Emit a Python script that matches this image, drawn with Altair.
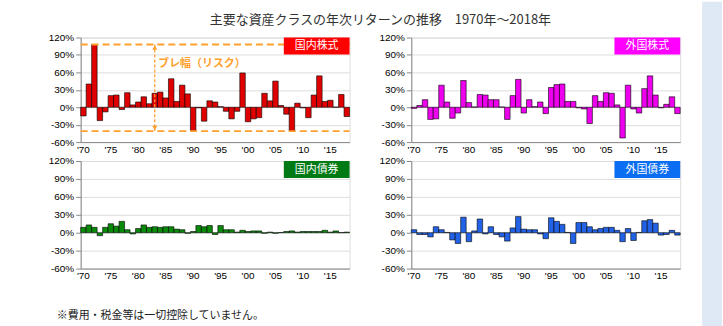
import altair as alt
import pandas as pd

# Annual returns (%) by asset class, 1970-2018
years = list(range(1970, 2019))

dom_equity = [-15, 40, 108, -23, -8, 20, 21, -4, 25, 4,
              9, 18, 6, 24, 26, 16, 49, 10, 38, 23,
              -40, -1, -24, 11, 9, 1, -7, -20, -7, 59,
              -25, -20, -18, 24, 11, 45, 3, -12, -41, 7,
              -1, -18, 21, 54, 10, 12, 0.3, 22, -16]

for_equity = [-2, 3, 13, -21, -20, 38, 9, -19, -10, 46,
              8, 0.5, 22, 21, 13, 13, 0.5, -21, 20, 48,
              -10, 13, 1, 9, -11, 34, 39, 40, 10, 10,
              -1, -3, -28, 20, 10, 25, 24, 4, -53, 38,
              -3, -10, 32, 54, 21, -1, 5, 18, -11]

dom_bond = [9, 13, 9, -5, 9, 15, 11, 19, 5, -2,
            7, 13, 9, 10, 9, 10, 10, 6, 5, -1,
            2, 12, 10, 12, -3, 12, 5, 5, 1, 4,
            2, 3, 3, -1, 1, -1, 0.3, 2, 3, 1,
            2, 2, 2, 2, 4, 1, 3, 0.2, 1]

for_bond = [5, -3, -3, -7, 10, 5, 0.5, -12, -18, 26,
            -15, 3, 23, -2, 10, -3, -7, -14, 8, 27,
            6, 5, 5, -2, -10, 25, 19, 14, 0.5, -18,
            17, 17, 10, 5, 7, 9, 9, 4, -15, 7,
            -13, 0.5, 20, 22, 16, -4, -3, 4, -4]

panel_names = ["国内株式", "外国株式", "国内債券", "外国債券"]
bar_colors = ["#E00000", "#EE00EE", "#0A8A0A", "#2162E6"]
box_colors = ["#FF0000", "#FF00FF", "#007A14", "#0A6EF2"]

x_tick_years = [1970, 1975, 1980, 1985, 1990, 1995, 2000, 2005, 2010, 2015]
y_ticks = [-60, -30, 0, 30, 60, 90, 120]

title_text = "主要な資産クラスの年次リターンの推移　1970年～2018年"
risk_label = "ブレ幅（リスク）"
note_text = "※費用・税金等は一切控除していません。"

ORANGE = "#FF9F2E"
JP_FONT = "Noto Sans CJK JP"
W = 270
TOP_H, BOTTOM_H = 105, 108
BOX_W, BOX_H = 66, 17
ARROW_YEAR = 1983
LABEL_YEAR = 1984
COL_GAP, ROW_GAP = 62, 19

Y_SCALE = alt.Scale(domain=[-60, 120], nice=False, zero=False)
Y_AXIS = alt.Axis(values=y_ticks, labelExpr="datum.value + '%'", grid=True)


def y_enc(field):
    return alt.Y(field, title=None, scale=Y_SCALE, axis=Y_AXIS)


def panel(values, idx, h, risk=False, note=False, heading=False, band=False):
    df = pd.DataFrame({"year": years, "ret": values})
    x = alt.X("year:O", title=None,
              scale=alt.Scale(paddingInner=0, paddingOuter=0),
              axis=alt.Axis(values=x_tick_years, labelAngle=0, ticks=False,
                            labelExpr="\"'\" + substring(toString(datum.value), 2, 4)"))
    lab = pd.DataFrame({"label": [panel_names[idx]]})
    layers = []

    if band:
        # pale slide-edge band along the right side of the figure
        layers.append(alt.Chart(lab).mark_rect(color="#DFE8F5").encode(
            x=alt.value(W + 22), x2=alt.value(W + 42),
            y=alt.value(-36), y2=alt.value(290)))

    bars = alt.Chart(df).mark_bar(
        color=bar_colors[idx], stroke="#000", strokeWidth=0.6
    ).encode(x=x, y=y_enc("ret:Q"), y2=alt.datum(0))
    layers.append(bars)

    box = alt.Chart(lab).mark_rect(color=box_colors[idx]).encode(
        x=alt.value(W - BOX_W), x2=alt.value(W),
        y=alt.value(0), y2=alt.value(BOX_H))
    box_text = alt.Chart(lab).mark_text(
        color="white", fontSize=11, font=JP_FONT, baseline="middle"
    ).encode(x=alt.value(W - BOX_W / 2), y=alt.value(BOX_H / 2 + 0.5),
             text="label:N")

    if risk:
        spread = alt.Chart(df).transform_aggregate(hi="max(ret)", lo="min(ret)")
        dash = dict(color=ORANGE, strokeWidth=1.8, strokeDash=[7, 4])
        hi_line = spread.mark_rule(**dash).encode(
            y=y_enc("hi:Q"), x=alt.value(0), x2=alt.value(W))
        lo_line = spread.mark_rule(**dash).encode(
            y=y_enc("lo:Q"), x=alt.value(0), x2=alt.value(W))
        ax = alt.X(datum=ARROW_YEAR, type="ordinal")
        shaft = spread.mark_rule(color=ORANGE, strokeWidth=1.3,
                                 strokeDash=[3, 2]).encode(
            x=ax, y=y_enc("hi:Q"), y2="lo:Q")
        head_up = spread.mark_point(shape="triangle-up", filled=True, size=26,
                                    color=ORANGE, opacity=1, yOffset=3).encode(
            x=ax, y=y_enc("hi:Q"))
        head_dn = spread.mark_point(shape="triangle-down", filled=True, size=26,
                                    color=ORANGE, opacity=1, yOffset=-3).encode(
            x=ax, y=y_enc("lo:Q"))
        risk_text = alt.Chart(lab).mark_text(
            color=ORANGE, fontSize=11, fontWeight="bold", font=JP_FONT,
            align="left", baseline="middle", dx=-2
        ).encode(x=alt.X(datum=LABEL_YEAR, type="ordinal"),
                 y=alt.Y(datum=75, type="quantitative", scale=Y_SCALE, axis=Y_AXIS),
                 text=alt.value(risk_label))
        layers += [hi_line, lo_line, shaft, head_up, head_dn, risk_text]

    layers += [box, box_text]

    if heading:
        layers.append(alt.Chart(lab).mark_text(
            color="#333", fontSize=13, font=JP_FONT, align="center",
            baseline="middle"
        ).encode(x=alt.value(301), y=alt.value(-18), text=alt.value(title_text)))

    if note:
        layers.append(alt.Chart(lab).mark_text(
            color="#222", fontSize=11, font=JP_FONT, align="left",
            baseline="middle"
        ).encode(x=alt.value(-24), y=alt.value(h + 48), text=alt.value(note_text)))

    return alt.layer(*layers).properties(width=W, height=h)


chart = alt.concat(
    panel(dom_equity, 0, TOP_H, risk=True, heading=True),
    panel(for_equity, 1, TOP_H, band=True),
    panel(dom_bond, 2, BOTTOM_H, note=True),
    panel(for_bond, 3, BOTTOM_H),
    columns=2,
    spacing=alt.RowColnumber(row=ROW_GAP, column=COL_GAP),
    bounds="flush",
).properties(
    padding={"left": 47, "top": 0, "right": 0, "bottom": 0},
).configure_view(
    stroke="#A6A6A6", strokeWidth=1
).configure_axis(
    labelFont="Liberation Sans", labelFontSize=7, labelColor="#595959",
    gridColor="#C4C4C4", gridWidth=0.8, domainColor="#8C8C8C",
    tickColor="#8C8C8C", tickSize=3, labelPadding=2
).configure(background="white")

chart.save("out.html", embed_options={"renderer": "svg", "actions": False})
